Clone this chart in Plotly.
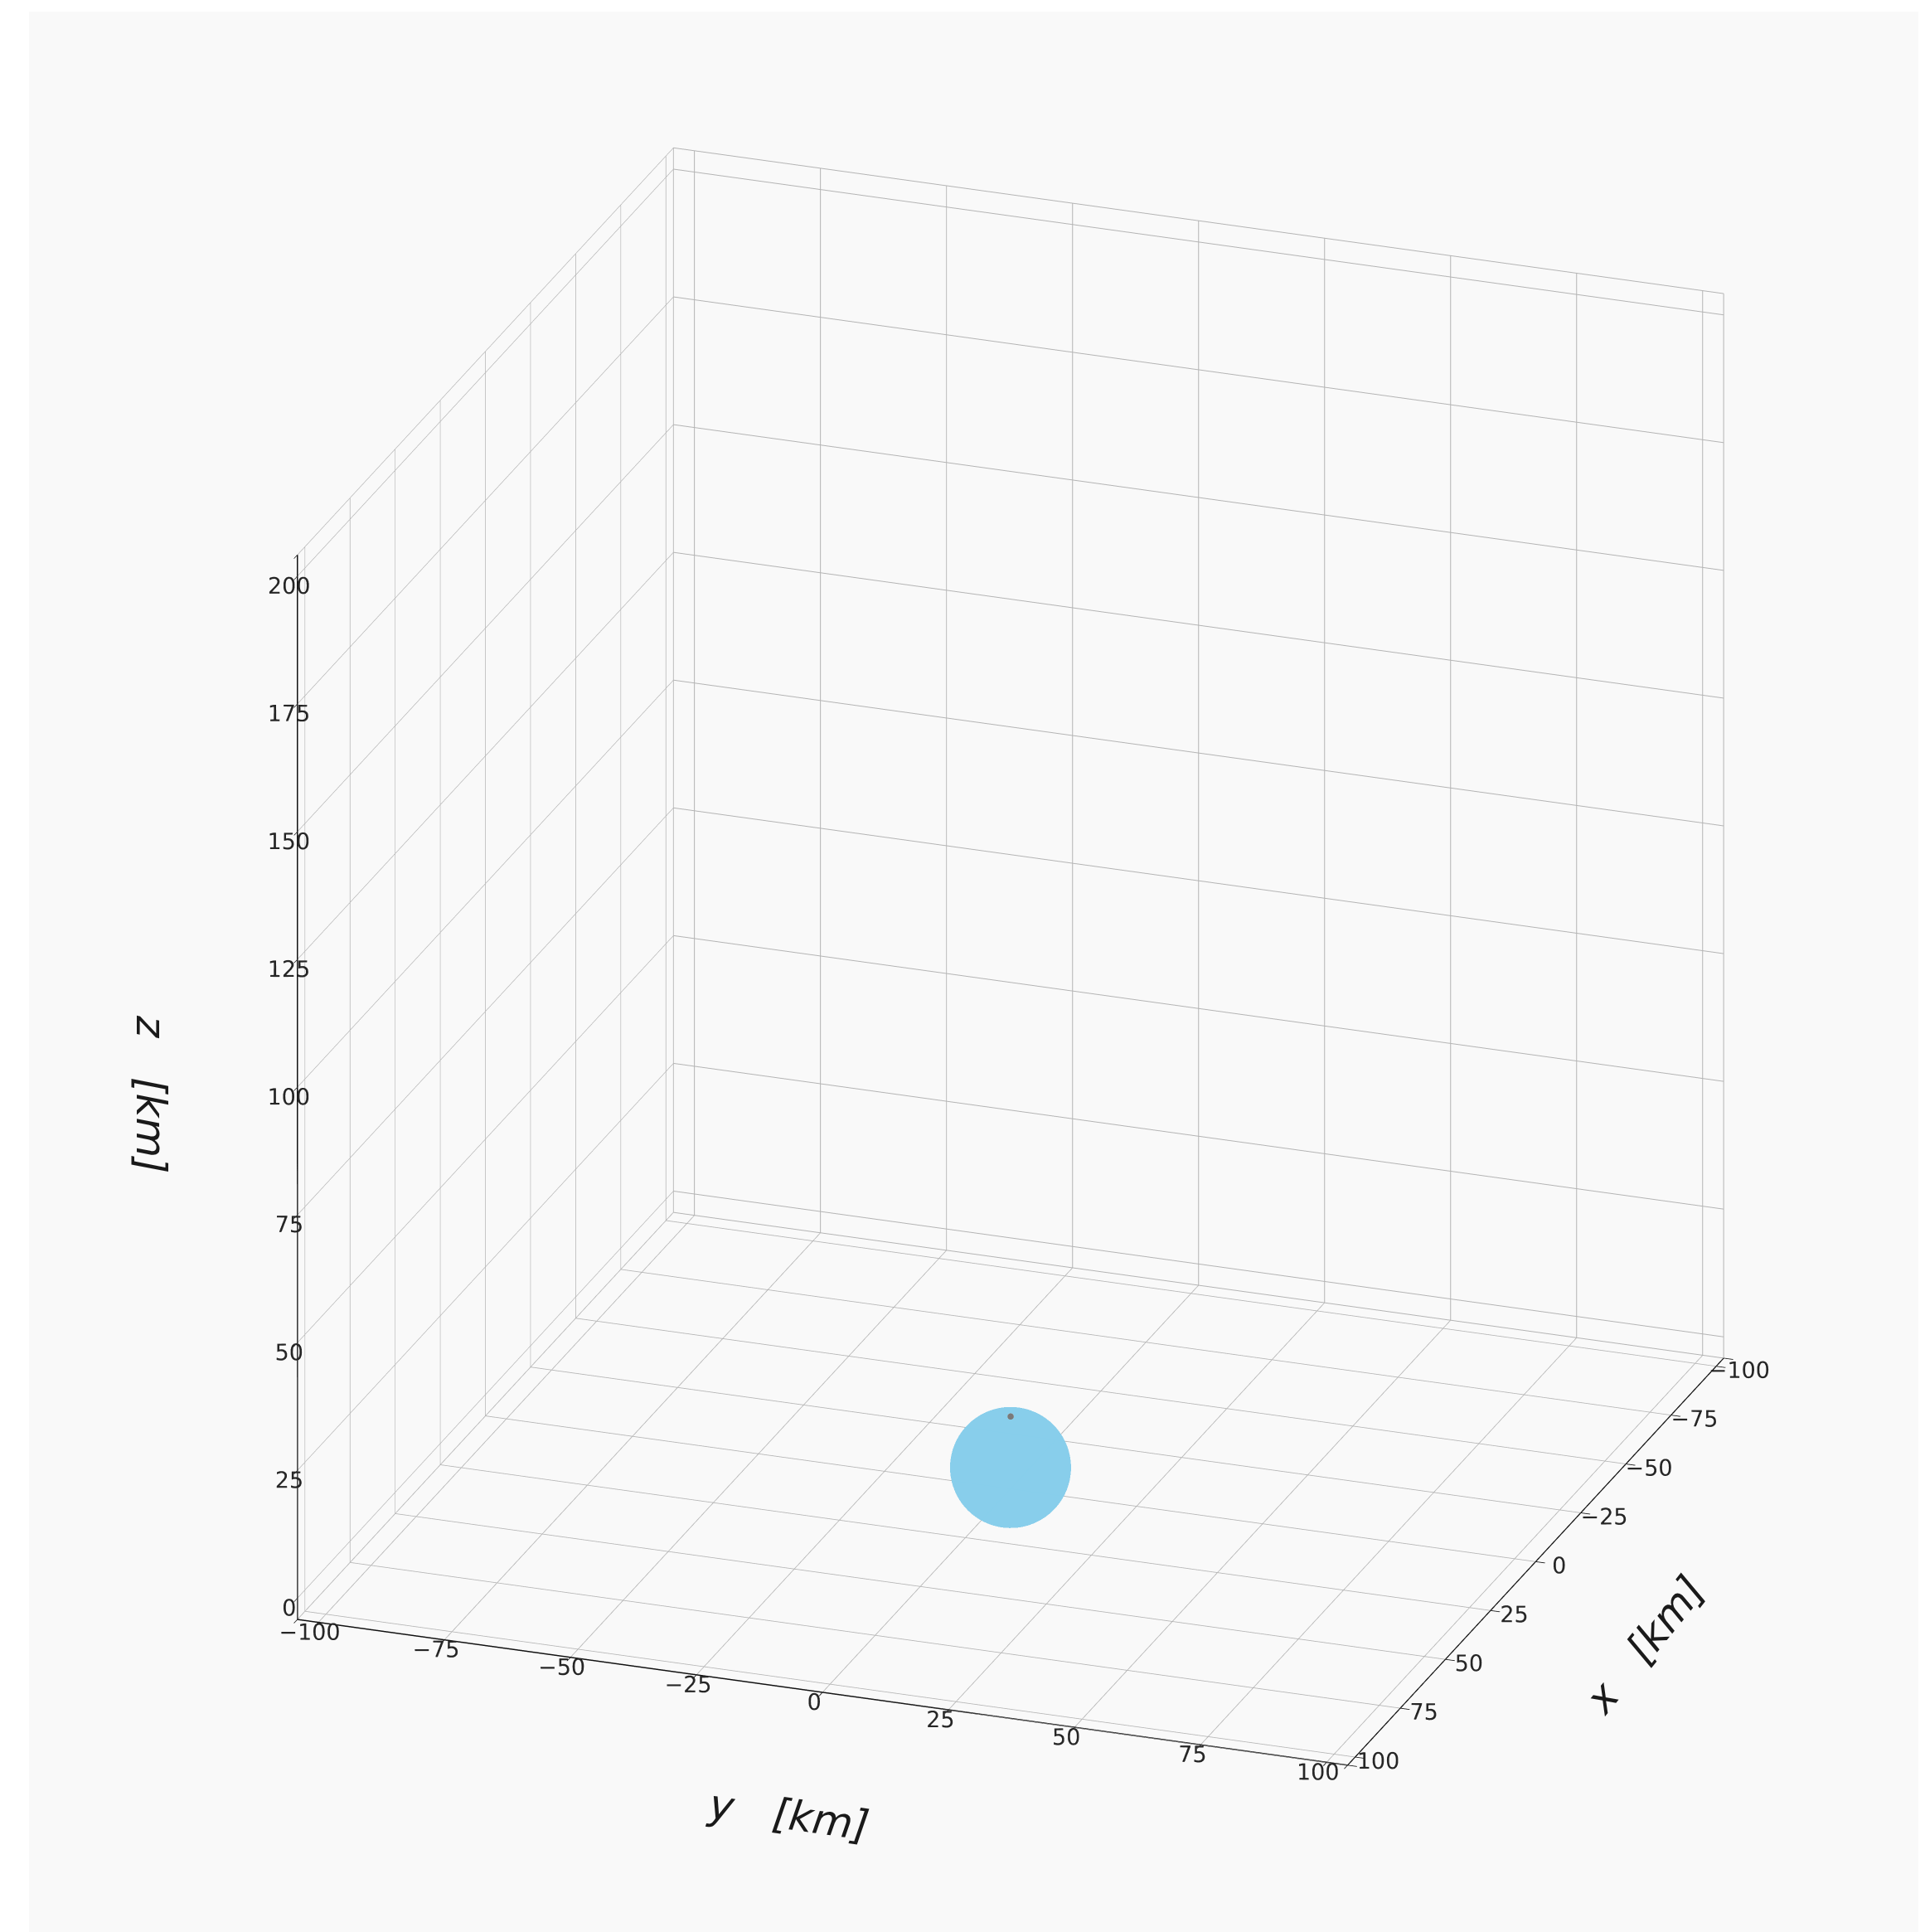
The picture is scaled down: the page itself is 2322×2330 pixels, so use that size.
import math
import numpy as np
import plotly.graph_objects as go

# ---- data ----
sphere_center = [0.0, 0.0, 0.0]       # km (x, y, z)
sphere_radius = 11.3                  # km
point_xyz = [0.0, 0.0, 10.0]          # km, small gray point on top of the sphere
x_ticks = [-100, -75, -50, -25, 0, 25, 50, 75, 100]
y_ticks = [-100, -75, -50, -25, 0, 25, 50, 75, 100]
z_ticks = [0, 25, 50, 75, 100, 125, 150, 175, 200]
x_lim = [-100, 100]
y_lim = [-100, 100]
z_lim = [0, 200]

W, H = 2322, 2330
BG = "#f9f9f9"

def padded(lim):
    d = (lim[1] - lim[0]) / 48.0
    return [lim[0] - d, lim[1] + d]

xr, yr, zr = padded(x_lim), padded(y_lim), padded(z_lim)

# ---- view (orthographic) ----
elev = math.radians(22.8)
azim = math.radians(19.7)
zoom = 1.155
z_aspect = 1.035
r = 1.374
d = np.array([math.cos(elev)*math.cos(azim), math.cos(elev)*math.sin(azim), math.sin(elev)])
shift = np.array([0.0205, -0.0382, -0.0154])
eye_v = shift + r*d

# line-of-sight direction in data units; sliding along it keeps the on-screen
# position (orthographic view) while keeping the sphere clear of the floor clip
los = np.array([d[0], d[1], d[2]/z_aspect])
def on_screen(p, k):
    return np.asarray(p, float) + k*los

c = on_screen(sphere_center, 20.0)
p = on_screen(point_xyz, 20.0 + 5.0)

u = np.linspace(0, 2*np.pi, 90)
v = np.linspace(0, np.pi, 45)
sx = c[0] + sphere_radius*np.outer(np.cos(u), np.sin(v))
sy = c[1] + sphere_radius*np.outer(np.sin(u), np.sin(v))
sz = c[2] + sphere_radius/z_aspect*np.outer(np.ones_like(u), np.cos(v))

fig = go.Figure()
fig.add_trace(go.Surface(
    x=sx, y=sy, z=sz,
    surfacecolor=np.zeros_like(sz), colorscale=[[0, "#87ceeb"], [1, "#87ceeb"]],
    showscale=False, opacity=0.93,
    lighting=dict(ambient=1.0, diffuse=0.0, specular=0.0, roughness=1.0, fresnel=0.0),
    hoverinfo="skip",
    contours=dict(x=dict(highlight=False), y=dict(highlight=False), z=dict(highlight=False))))
fig.add_trace(go.Scatter3d(
    x=[p[0]], y=[p[1]], z=[p[2]],
    mode="markers",
    marker=dict(size=4.5, color="#7a7a7a", line=dict(width=0)),
    showlegend=False, hoverinfo="skip"))

tickfont = dict(family="DejaVu Sans", size=18, color="#262626")
def ax(rng, ticks):
    vals = [rng[0]] + ticks + [rng[1]]
    txt = [""] + [str(t).replace("-", "\u2212") for t in ticks] + [""]
    return dict(range=rng, tickvals=vals, ticktext=txt,
                tickangle=0,
                showgrid=True, gridcolor="#b4b4b4", gridwidth=2,
                showbackground=False, showline=True, linecolor="#111111", linewidth=3,
                ticks="outside", ticklen=12, tickcolor="#111111", tickwidth=2,
                zeroline=False, showspikes=False, title=dict(text=""), tickfont=tickfont)

ann_font = dict(family="DejaVu Sans", size=50, color="#1a1a1a")
fig.update_layout(
    width=W, height=H, paper_bgcolor=BG, plot_bgcolor=BG,
    margin=dict(l=0, r=0, t=0, b=0),
    scene=dict(
        domain=dict(x=[0, 1], y=[0, 1]),
        xaxis=ax(xr, x_ticks),
        yaxis=ax(yr, y_ticks),
        zaxis=ax(zr, z_ticks),
        aspectmode="manual", aspectratio=dict(x=zoom, y=zoom, z=zoom*z_aspect),
        camera=dict(eye=dict(x=eye_v[0], y=eye_v[1], z=eye_v[2]),
                    center=dict(x=shift[0], y=shift[1], z=shift[2]),
                    up=dict(x=0, y=0, z=1),
                    projection=dict(type="orthographic")),
        bgcolor=BG,
    ),
    shapes=[
        dict(type="rect", xref="paper", yref="paper", x0=0, x1=27/W, y0=0, y1=1,
             fillcolor="white", line=dict(width=0), layer="above"),
        dict(type="rect", xref="paper", yref="paper", x0=0, x1=1, y0=1-6/H, y1=1,
             fillcolor="white", line=dict(width=0), layer="above"),
    ],
    annotations=[
        dict(text="<i>y</i>   <i>[km]</i>", xref="paper", yref="paper", x=943/W, y=1-2181/H,
             xanchor="center", yanchor="middle",
             showarrow=False, textangle=8, font=ann_font),
        dict(text="<i>x</i>   <i>[km]</i>", xref="paper", yref="paper", x=1976/W, y=1-1976/H,
             xanchor="center", yanchor="middle",
             showarrow=False, textangle=-51, font=ann_font),
        dict(text="<i>z</i>   <i>[km]</i>", xref="paper", yref="paper", x=174/W, y=1-1312/H,
             xanchor="center", yanchor="middle",
             showarrow=False, textangle=90, font=ann_font),
    ],
)

fig.write_html("out.html")
